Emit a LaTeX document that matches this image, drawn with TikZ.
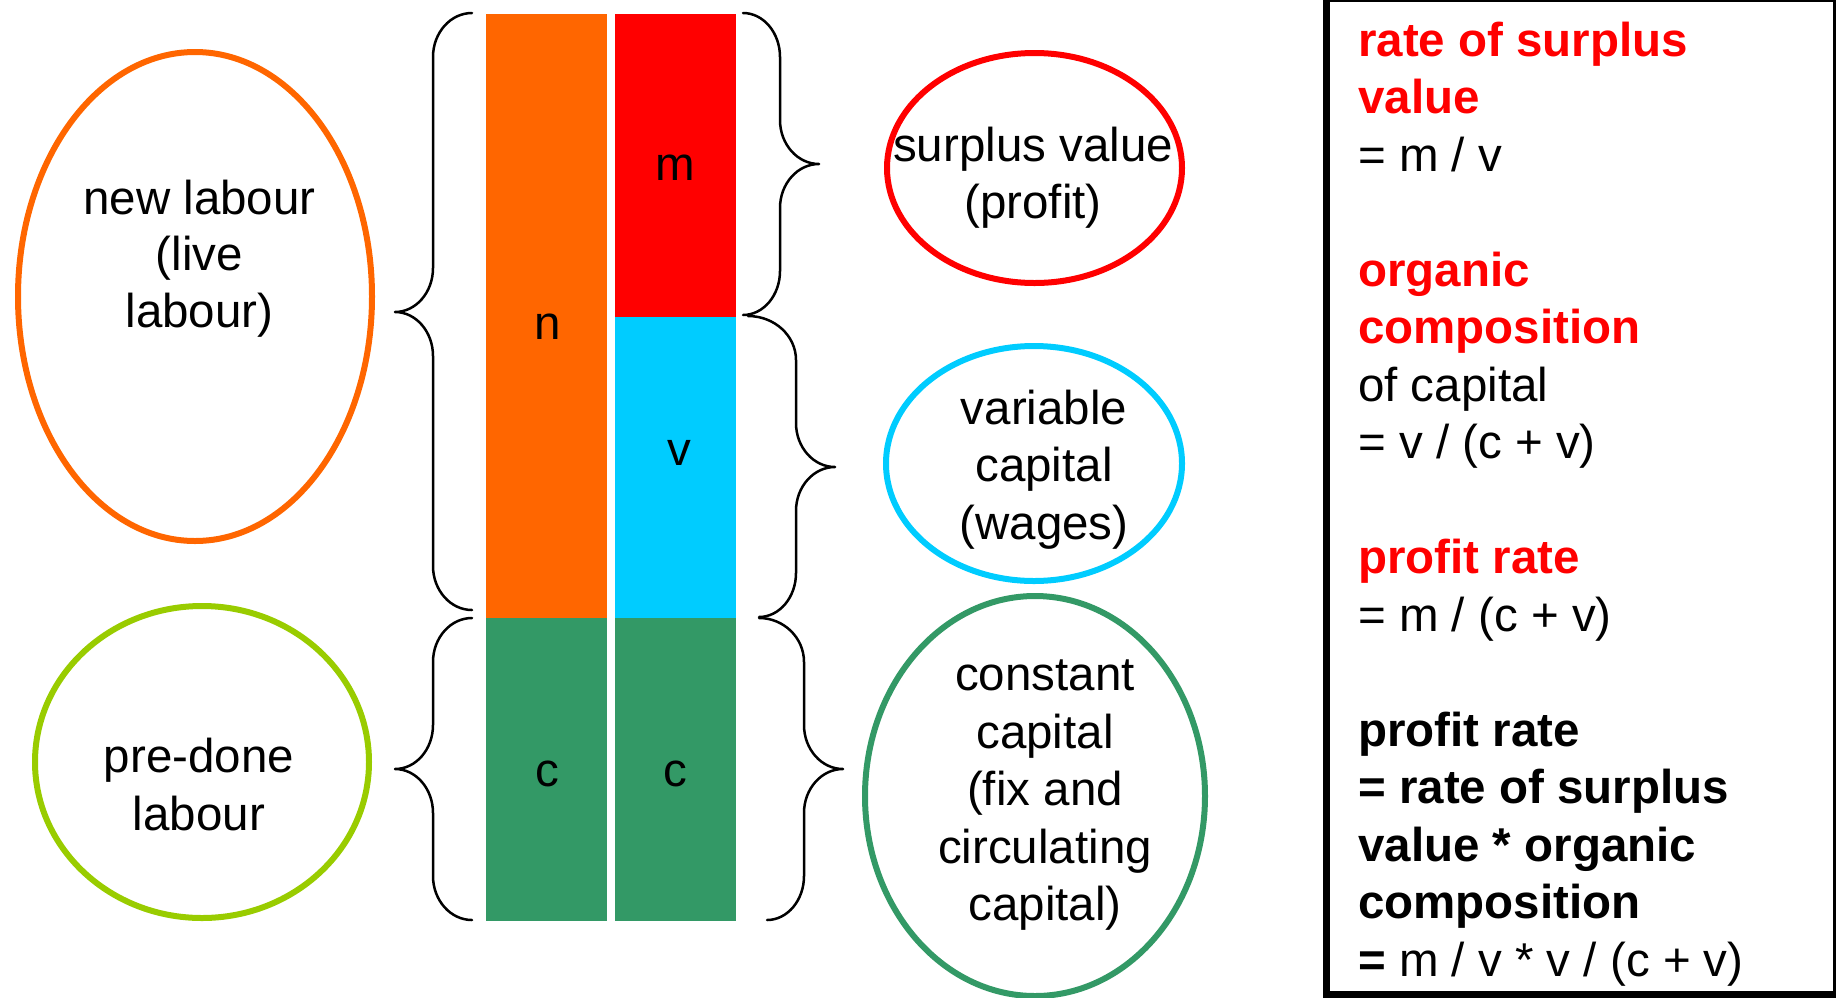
\documentclass[tikz,border=0pt]{standalone}
\usepackage{fontspec}
\setmainfont{Liberation Sans}
\usetikzlibrary{shapes.geometric}
\definecolor{corange}{HTML}{FF6600}
\definecolor{cred}{HTML}{FF0000}
\definecolor{ccyan}{HTML}{00CCFF}
\definecolor{cgreen}{HTML}{339966}
\definecolor{cyg}{HTML}{99CC00}
% #1 x of top end, #2 x of bottom end, #3 x of straight part, #4 x of tip, #5 y top, #6 y tip, #7 y bottom
\newcommand\curlybr[7]{%
  \draw[bracestyle] (#1,#5) .. controls ({#1+0.552*(#3-#1)},#5) and (#3,{#5+0.448*44}) .. (#3,{#5+44})
    -- (#3,{#6-44}) .. controls (#3,{#6-44+0.552*44}) and ({#4+0.552*(#3-#4)},#6) .. (#4,#6)
    .. controls ({#4+0.552*(#3-#4)},#6) and (#3,{#6+44-0.552*44}) .. (#3,{#6+44})
    -- (#3,{#7-44}) .. controls (#3,{#7-0.448*44}) and ({#2+0.552*(#3-#2)},#7) .. (#2,#7);}
\begin{document}
\begin{tikzpicture}[x=1pt,y=-1pt,
  txt/.style={font=\fontsize{47.5}{57.5}\selectfont, inner sep=0pt, anchor=base},
  boxt/.style={txt, anchor=base west},
  hd/.style={boxt, text=cred, font=\fontsize{47.5}{57.5}\selectfont\bfseries},
  bd/.style={boxt, font=\fontsize{47.5}{57.5}\selectfont\bfseries},
  oval/.style={ellipse, draw, line width=6pt, inner sep=0pt},
  bracestyle/.style={line width=2.5pt, line cap=round, line join=round}]
\useasboundingbox (0,0) rectangle (1836,997);
\clip (0,0) rectangle (1836,997);
% bars
\fill[corange] (486,14) rectangle (607,618);
\fill[cred] (615,14) rectangle (736,317);
\fill[ccyan] (615,317) rectangle (736,618);
\fill[cgreen] (486,618) rectangle (607,921);
\fill[cgreen] (615,618) rectangle (736,921);
\node[txt] (ln) at (548,339) {n};
\node[txt] (lm) at (675,180) {m};
\node[txt] (lv) at (679,465) {v};
\node[txt] (lc1) at (547,786) {c};
\node[txt] (lc2) at (675,786) {c};
% braces
\curlybr{472}{472}{433}{395}{13}{312}{610}
\curlybr{472}{472}{433}{395}{618}{769}{920}
\curlybr{743}{743}{780}{819}{13}{164}{315}
\curlybr{748}{759}{796}{835}{316}{467}{617}
\curlybr{759}{767}{804}{843}{618}{769}{920}
% ellipses
\node[oval, draw=corange, minimum width=354pt, minimum height=489pt] (enew) at (195,296.5) {};
\node[oval, draw=cyg, minimum width=334pt, minimum height=312pt] (epre) at (202,762) {};
\node[oval, draw=cred, minimum width=295pt, minimum height=230pt] (esur) at (1034.5,168) {};
\node[oval, draw=ccyan, minimum width=296pt, minimum height=235pt] (evar) at (1034,463.5) {};
\node[oval, draw=cgreen, minimum width=340pt, minimum height=400pt] (econ) at (1035,796) {};
% ellipse texts
\node[txt] (n1) at (199.5,214) {new labour};
\node[txt] (n2) at (199.5,270.5) {(live};
\node[txt] (n3) at (199.5,327) {labour)};
\node[txt] (p1) at (199,772) {pre-done};
\node[txt] (p2) at (199,830) {labour};
\node[txt] (s1) at (1033,161) {surplus value};
\node[txt] (s2) at (1033,218.5) {(profit)};
\node[txt] (v1) at (1044,424) {variable};
\node[txt] (v2) at (1044,481.5) {capital};
\node[txt] (v3) at (1044,539) {(wages)};
\node[txt] (c1) at (1045,690.5) {constant};
\node[txt] (c2) at (1045,748) {capital};
\node[txt] (c3) at (1045,805.5) {(fix and};
\node[txt] (c4) at (1045,863) {circulating};
\node[txt] (c5) at (1045,920.5) {capital)};
% right box
\draw[line width=7pt] (1326.5,-1.5) rectangle (1836,994);
\node[hd] (r1) at (1358,56) {rate of surplus};
\node[hd] (r2) at (1358,113.5) {value};
\node[boxt] (r3) at (1358,171) {= m / v};
\node[hd] (r4) at (1358,286) {organic};
\node[hd] (r5) at (1358,343.5) {composition};
\node[boxt] (r6) at (1358,401) {of capital};
\node[boxt] (r7) at (1358,458.5) {= v / (c + v)};
\node[hd] (r8) at (1358,573.5) {profit rate};
\node[boxt] (r9) at (1358,631) {= m / (c + v)};
\node[bd] (r10) at (1358,746) {profit rate};
\node[bd] (r11) at (1358,803.5) {= rate of surplus};
\node[bd] (r12) at (1358,861) {value * organic};
\node[bd] (r13) at (1358,918.5) {composition};
\node[boxt] (r14) at (1358,976) {\textbf{=} m / v * v / (c + v)};
\end{tikzpicture}
\end{document}
